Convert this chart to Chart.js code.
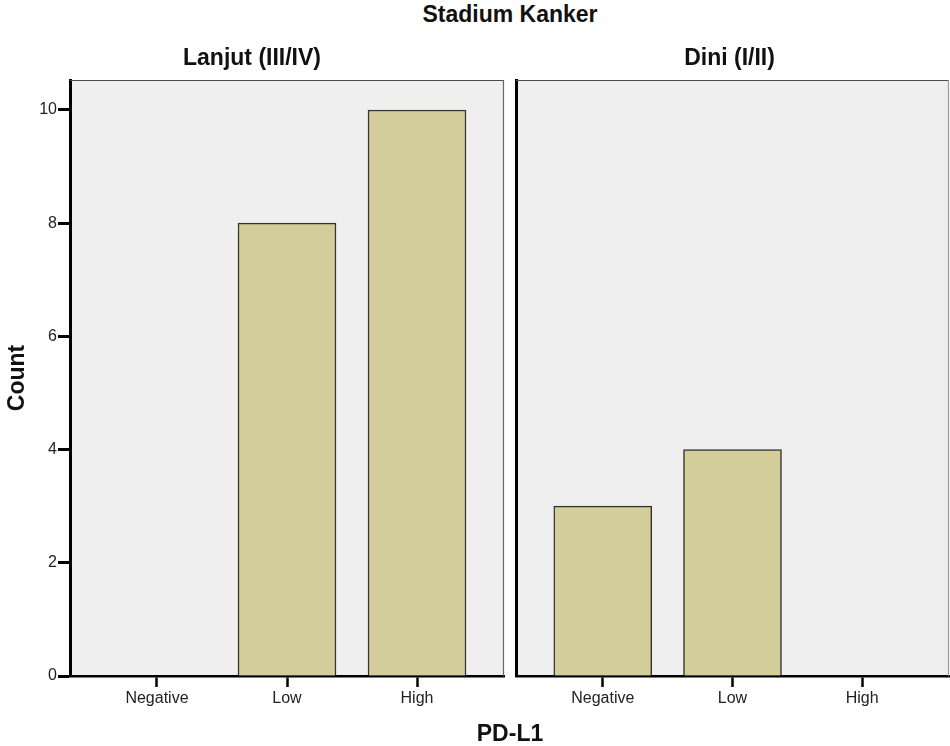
<!DOCTYPE html>
<html>
<head>
<meta charset="utf-8">
<script src="https://cdn.jsdelivr.net/npm/chart.js@4.4.1/dist/chart.umd.min.js"></script>
<style>
  body { margin: 0; background: #fff; }
  #wrap { position: relative; width: 950px; height: 746px; font-family: "Liberation Sans", Arial, sans-serif; }
  canvas { position: absolute; top: 0; }
  .lbl { position: absolute; font-weight: bold; font-size: 23px; line-height: 28px; text-align: center; color: #111; }
</style>
</head>
<body>
<div id="wrap">
  <div class="lbl" style="left:310px; top:0px; width:400px;">Stadium Kanker</div>
  <canvas id="left" width="510" height="746" style="left:0px"></canvas>
  <canvas id="right" width="440" height="746" style="left:510px"></canvas>
  <div class="lbl" style="left:310px; top:719px; width:400px;">PD-L1</div>
</div>
<script>
const categories = ["Negative", "Low", "High"];
const lanjutCounts = [0, 8, 10];
const diniCounts = [3, 4, 0];
const panelTitles = ["Lanjut (III/IV)", "Dini (I/II)"];
const yTicks = [0, 2, 4, 6, 8, 10];

const FONT = "'Liberation Sans', Arial, sans-serif";

// plot background and the thin grey frame lines
const panelFrame = {
  id: "panelFrame",
  beforeDraw(chart, args, opts) {
    const { ctx, chartArea: a } = chart;
    ctx.save();
    ctx.fillStyle = "#efefef";
    ctx.fillRect(a.left, a.top, a.right - a.left, a.bottom - a.top);
    ctx.restore();
  },
  beforeDatasetsDraw(chart, args, opts) {
    const { ctx, chartArea: a } = chart;
    ctx.save();
    ctx.lineWidth = 1.2;
    ctx.strokeStyle = "#4a4a4a";
    ctx.beginPath();
    ctx.moveTo(a.left, a.top + 0.5);
    ctx.lineTo(a.right, a.top + 0.5);
    ctx.stroke();
    ctx.strokeStyle = opts.rightColor || "#666";
    ctx.beginPath();
    ctx.moveTo(a.right - 0.5, a.top);
    ctx.lineTo(a.right - 0.5, a.bottom);
    ctx.stroke();
    ctx.restore();
  },
};

function makePanel(canvasId, title, counts, isFirst) {
  return new Chart(document.getElementById(canvasId), {
    type: "bar",
    data: {
      datasets: [
        {
          data: counts.map((v, i) => ({ x: i, y: v })),
          backgroundColor: "#d3ce99",
          borderColor: "#333",
          borderWidth: 1.5,
          barThickness: 98,
        },
      ],
    },
    plugins: [panelFrame],
    options: {
      responsive: false,
      animation: false,
      layout: { padding: { left: 0, right: isFirst ? 6 : 1, top: 0, bottom: 0 } },
      plugins: {
        legend: { display: false },
        tooltip: { enabled: false },
        panelFrame: { rightColor: isFirst ? "#666" : "#999" },
        title: {
          display: true,
          text: title,
          color: "#111",
          font: { family: FONT, size: 23, weight: "bold", lineHeight: 1.2 },
          padding: { top: 45, bottom: 7.4 },
        },
      },
      scales: {
        x: {
          type: "linear",
          offset: false,
          min: -0.669,
          max: 2.669,
          afterBuildTicks: (s) => {
            s.ticks = categories.map((c, i) => ({ value: i }));
          },
          afterFit: (s) => {
            s.height = 70;
          },
          ticks: {
            callback: (v) => categories[v],
            color: "#222",
            font: { family: FONT, size: 16 },
            padding: 2,
            maxRotation: 0,
          },
          grid: {
            offset: false,
            drawOnChartArea: false,
            drawTicks: true,
            tickLength: 11,
            tickWidth: 2.5,
            tickColor: "#000",
          },
          border: { display: true, color: "#000", width: 2.5 },
        },
        y: {
          min: 0,
          max: 10.53,
          afterBuildTicks: (s) => {
            s.ticks = yTicks.map((v) => ({ value: v }));
          },
          afterFit: (s) => {
            s.width = isFirst ? 70 : 6;
          },
          title: {
            display: isFirst,
            text: "Count",
            color: "#111",
            font: { family: FONT, size: 23, weight: "bold", lineHeight: 1.2 },
            padding: { top: 4, bottom: 0 },
          },
          ticks: {
            display: isFirst,
            color: "#222",
            font: { family: FONT, size: 16 },
            padding: 1,
          },
          grid: {
            drawOnChartArea: false,
            drawTicks: isFirst,
            tickLength: 12,
            tickWidth: 3,
            tickColor: "#000",
          },
          border: { display: true, color: "#000", width: 3 },
        },
      },
    },
  });
}

makePanel("left", panelTitles[0], lanjutCounts, true);
makePanel("right", panelTitles[1], diniCounts, false);
</script>
</body>
</html>
